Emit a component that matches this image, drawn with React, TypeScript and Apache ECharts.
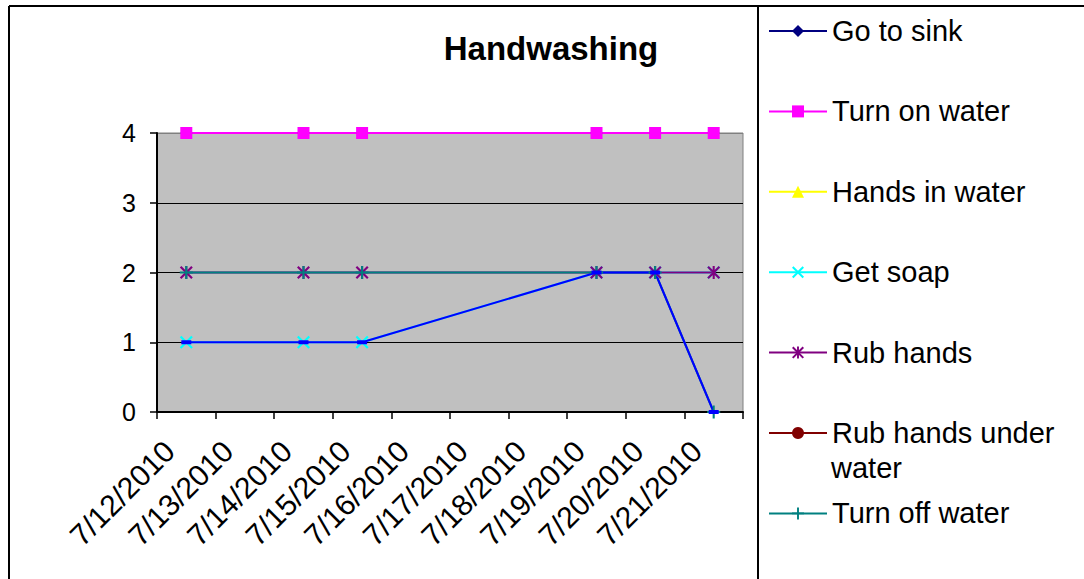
import React, { useEffect, useRef } from 'react';
import * as echarts from 'echarts';

const categories = [
  '7/12/2010', '7/13/2010', '7/14/2010', '7/15/2010', '7/16/2010',
  '7/17/2010', '7/18/2010', '7/19/2010', '7/20/2010', '7/21/2010',
];
const yTicks = [0, 1, 2, 3, 4];

const goToSink = [4, null, 4, 4, null, null, null, 4, 4, 4];
const turnOnWater = [4, null, 4, 4, null, null, null, 4, 4, 4];
const handsInWater = [null, null, null, null, null, null, null, null, null, null];
const getSoap = [1, null, 1, 1, null, null, null, 2, 2, 2];
const rubHands = [2, null, 2, 2, null, null, null, 2, 2, 2];
const rubHandsUnderWater = [null, null, null, null, null, null, null, null, null, null];
const turnOffWater = [2, null, 2, 2, null, null, null, 2, 2, 0];
const rinseHands = [1, null, 1, 1, null, null, null, 2, 2, 0];

const legendNames = [
  'Go to sink', 'Turn on water', 'Hands in water', 'Get soap',
  'Rub hands', 'Rub hands under', 'Turn off water',
];

const FONT = "'Liberation Sans', Arial, sans-serif";

const SYM_X = 'path://M0,1.2L1.2,0L10,8.8L8.8,10Z M8.8,0L10,1.2L1.2,10L0,8.8Z';
const SYM_STAR = 'path://M0,1.2L1.2,0L10,8.8L8.8,10Z M8.8,0L10,1.2L1.2,10L0,8.8Z M4.2,0L5.8,0L5.8,10L4.2,10Z';
const SYM_PLUS = 'path://M4.2,0L5.8,0L5.8,10L4.2,10Z M0,4.2L10,4.2L10,5.8L0,5.8Z';
const SYM_DASH = 'path://M0,0L10,0L10,4L0,4Z';

function mk(name: string, data: (number | null)[], color: string, symbol: string, size: number | number[]) {
  return {
    name,
    type: 'line',
    data,
    connectNulls: true,
    symbol,
    symbolSize: size,
    showAllSymbol: true,
    lineStyle: { color, width: 2 },
    itemStyle: { color, borderWidth: 0 },
    emphasis: { disabled: true },
  };
}

export default function App() {
  const ref = useRef<HTMLDivElement>(null);
  useEffect(() => {
    document.body.style.margin = '0';
    const chart = echarts.init(ref.current!, undefined, { renderer: 'svg' });
    chart.setOption({
      animation: false,
      backgroundColor: '#ffffff',
      textStyle: { fontFamily: FONT },
      grid: {
        left: 157, right: 341, top: 133, bottom: 167,
        show: true, backgroundColor: '#C0C0C0', borderColor: '#808080', borderWidth: 1,
      },
      legend: {
        orient: 'vertical',
        left: 768,
        top: 14,
        padding: 0,
        itemWidth: 58,
        itemHeight: 15,
        itemGap: 46.4,
        data: legendNames,
        selectedMode: false,
        textStyle: { fontSize: 29, color: '#000', fontFamily: FONT, lineHeight: 34 },
      },
      xAxis: {
        type: 'category',
        data: categories,
        boundaryGap: true,
        axisLine: { show: true, lineStyle: { color: '#000', width: 2 } },
        axisTick: { show: true, length: 7, interval: 0, lineStyle: { color: '#000', width: 1.5 } },
        axisLabel: {
          rotate: 45, interval: 0, fontSize: 30, color: '#000', margin: 17,
          padding: [0, 24, 0, 0], fontFamily: FONT,
        },
        splitLine: { show: false },
      },
      yAxis: {
        type: 'value',
        min: yTicks[0],
        max: yTicks[yTicks.length - 1],
        interval: 1,
        axisLine: { show: true, lineStyle: { color: '#000', width: 2 } },
        axisTick: { show: true, length: 7, lineStyle: { color: '#000', width: 1.5 } },
        axisLabel: { fontSize: 25, color: '#000', margin: 21, fontFamily: FONT },
        splitLine: { show: true, lineStyle: { color: ['#000', '#000', '#000', '#000', '#808080'], width: 1 } },
      },
      graphic: [
        { type: 'line', shape: { x1: 9, y1: 6, x2: 1084, y2: 6 }, style: { stroke: '#000', lineWidth: 2 } },
        { type: 'line', shape: { x1: 9, y1: 6, x2: 9, y2: 579 }, style: { stroke: '#000', lineWidth: 2 } },
        { type: 'line', shape: { x1: 758, y1: 6, x2: 758, y2: 579 }, style: { stroke: '#000', lineWidth: 2 } },
        {
          type: 'text', x: 551, y: 48,
          style: { text: 'Handwashing', fill: '#000', font: `bold 33px ${FONT}`, textAlign: 'center', textVerticalAlign: 'middle' },
        },
        {
          type: 'text', x: 831, y: 468,
          style: { text: 'water', fill: '#000', font: `29px ${FONT}`, textAlign: 'left', textVerticalAlign: 'middle' },
        },
      ],
      series: [
        mk('Go to sink', goToSink, '#000080', 'diamond', 12),
        mk('Turn on water', turnOnWater, '#FF00FF', 'rect', 12),
        mk('Hands in water', handsInWater, '#FFFF00', 'triangle', 11),
        mk('Get soap', getSoap, '#00FFFF', SYM_X, 13),
        mk('Rub hands', rubHands, '#800080', SYM_STAR, 13),
        mk('Rub hands under', rubHandsUnderWater, '#800000', 'circle', 12),
        mk('Turn off water', turnOffWater, '#008080', SYM_PLUS, 13),
        mk('Rinse hands', rinseHands, '#0000FF', SYM_DASH, [10, 4]),
      ],
    });
    return () => chart.dispose();
  }, []);
  return <div ref={ref} style={{ width: 1084, height: 579 }} />;
}
